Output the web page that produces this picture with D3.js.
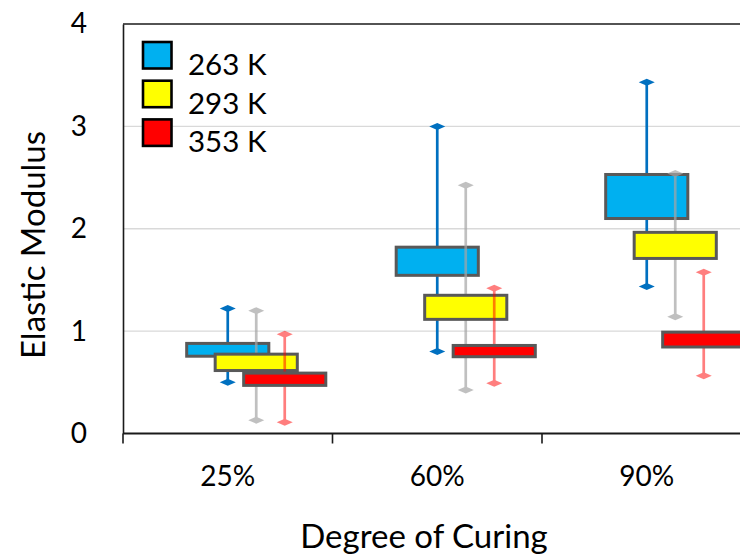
<!DOCTYPE html>
<html>
<head>
<meta charset="utf-8">
<script src="https://cdn.jsdelivr.net/npm/d3@7"></script>
<style>
  body { margin: 0; background: #fff; }
  svg { display: block; font-family: Lato, "Open Sans", sans-serif; }
</style>
</head>
<body>
<svg id="chart" width="740" height="559"></svg>
<script>
const categories = ["25%", "60%", "90%"];
const series = ["263 K", "293 K", "353 K"];
const yTicks = [0, 1, 2, 3, 4];

// [min, q1, q3, max] per category
const box263 = [[0.50, 0.755, 0.88, 1.22], [0.80, 1.545, 1.82, 3.00], [1.435, 2.10, 2.53, 3.43]];
const box293 = [[0.13, 0.615, 0.775, 1.20], [0.425, 1.115, 1.35, 2.425], [1.14, 1.71, 1.965, 2.54]];
const box353 = [[0.11, 0.47, 0.59, 0.97], [0.49, 0.75, 0.86, 1.42], [0.565, 0.845, 0.99, 1.575]];

const boxFill = ["#00B0F0", "#FFFF00", "#FF0000"];
const whiskerColor = ["#0070C0", "#A6A6A6", "#FF0000"];
const whiskerOpacity = [1, 0.7, 0.5];

const margin = { left: 123, top: 24, bottom: 125.5 };
const width = 740, height = 559;

const svg = d3.select("#chart");

const x = d3.scaleBand()
  .domain(categories)
  .range([margin.left, margin.left + 3 * 209.5]);

const y = d3.scaleLinear()
  .domain([0, 4])
  .range([height - margin.bottom, margin.top]);

// series offset from band centre
const xs = d3.scalePoint()
  .domain(series)
  .range([0, x.bandwidth() * 0.272]);

const boxW = x.bandwidth() * 0.392;

// gridlines
svg.append("g")
  .selectAll("line")
  .data(yTicks.filter(d => d > 0 && d < 4))
  .join("line")
  .attr("x1", margin.left)
  .attr("x2", width)
  .attr("y1", d => y(d))
  .attr("y2", d => y(d))
  .attr("stroke", "#D9D9D9")
  .attr("stroke-width", 1.3);

// top frame
svg.append("line")
  .attr("x1", margin.left).attr("x2", width)
  .attr("y1", y(4)).attr("y2", y(4))
  .attr("stroke", "#1a1a1a").attr("stroke-width", 1.3);

// y axis
const yAxis = svg.append("g")
  .attr("transform", `translate(${margin.left},0)`)
  .call(d3.axisLeft(y).tickValues(yTicks).tickSize(0).tickPadding(36).tickFormat(d3.format("d")));
yAxis.select(".domain").attr("stroke", "#1a1a1a").attr("stroke-width", 1.6);
yAxis.selectAll("text")
  .attr("font-size", 28)
  .attr("fill", "#000")
  .attr("font-family", "Lato, sans-serif");

// x axis: ticks on band boundaries
const xAxis = svg.append("g")
  .attr("transform", `translate(0,${y(0)})`);
xAxis.append("line")
  .attr("x1", margin.left).attr("x2", width)
  .attr("stroke", "#1a1a1a").attr("stroke-width", 1.8);
xAxis.selectAll(".tk")
  .data(categories)
  .join("line")
  .attr("class", "tk")
  .attr("x1", d => x(d)).attr("x2", d => x(d))
  .attr("y1", 0).attr("y2", 10)
  .attr("stroke", "#1a1a1a").attr("stroke-width", 1.6);
xAxis.selectAll(".lbl")
  .data(categories)
  .join("text")
  .attr("class", "lbl")
  .attr("x", d => x(d) + x.bandwidth() / 2)
  .attr("y", 52.5)
  .attr("text-anchor", "middle")
  .attr("font-size", 28)
  .text(d => d);

// boxes and whiskers, drawn series by series
const allBoxes = [box263, box293, box353];
const plot = svg.append("g");

series.forEach((s, i) => {
  const g = plot.append("g");
  const data = allBoxes[i].map((v, j) => ({ cat: categories[j], min: v[0], q1: v[1], q3: v[2], max: v[3] }));
  const cx = d => x(d.cat) + x.bandwidth() / 2 + xs(s);

  const wg = g.append("g")
    .attr("opacity", whiskerOpacity[i]);
  wg.selectAll("line")
    .data(data)
    .join("line")
    .attr("x1", cx).attr("x2", cx)
    .attr("y1", d => y(d.min)).attr("y2", d => y(d.max))
    .attr("stroke", whiskerColor[i])
    .attr("stroke-width", 2.7);

  const caps = data.flatMap(d => [{ cat: d.cat, v: d.min }, { cat: d.cat, v: d.max }]);
  wg.selectAll("path")
    .data(caps)
    .join("path")
    .attr("d", d => {
      const px = cx(d), py = y(d.v);
      return `M${px - 8},${py} L${px},${py - 3.5} L${px + 8},${py} L${px},${py + 3.5} Z`;
    })
    .attr("fill", whiskerColor[i]);

  g.selectAll("rect")
    .data(data)
    .join("rect")
    .attr("x", d => cx(d) - boxW / 2)
    .attr("width", boxW)
    .attr("y", d => y(d.q3))
    .attr("height", d => y(d.q1) - y(d.q3))
    .attr("fill", boxFill[i])
    .attr("stroke", "#595959")
    .attr("stroke-width", 3);
});

// legend
const legend = svg.append("g")
  .attr("transform", "translate(143,42)");
const item = legend.selectAll("g")
  .data(series)
  .join("g")
  .attr("transform", (d, i) => `translate(0,${i * 38.7})`);
item.append("rect")
  .attr("width", 28.5)
  .attr("height", 26.5)
  .attr("fill", (d, i) => boxFill[i])
  .attr("stroke", "#000")
  .attr("stroke-width", 2.6);
item.append("text")
  .attr("x", 45)
  .attr("y", 33)
  .attr("font-size", 29.5)
  .text(d => d);

// axis titles
svg.append("text")
  .attr("x", 424)
  .attr("y", 548)
  .attr("text-anchor", "middle")
  .attr("font-size", 33)
  .text("Degree of Curing");

svg.append("text")
  .attr("transform", "translate(45,245) rotate(-90)")
  .attr("text-anchor", "middle")
  .attr("font-size", 33)
  .text("Elastic Modulus");
</script>
</body>
</html>
